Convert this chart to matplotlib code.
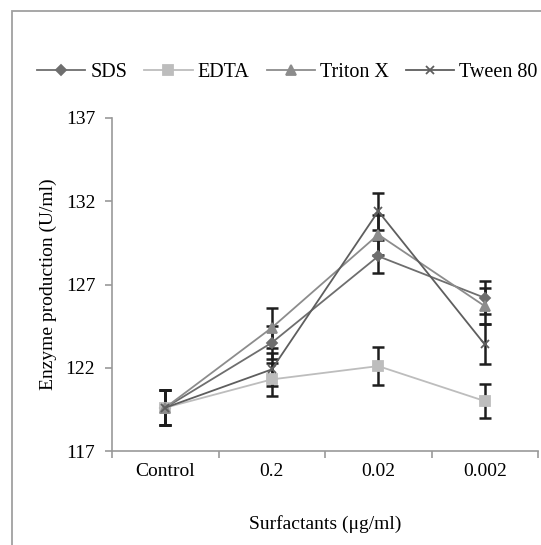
import numpy as np
import matplotlib.pyplot as plt
from matplotlib.patches import Rectangle

plt.rcParams['font.family'] = ['Liberation Serif', 'DejaVu Serif']

# 酶产量数据（U/ml），各表面活性剂在不同浓度下
categories = ['Control', '0.2', '0.02', '0.002']
sds = [119.6, 123.5, 128.7, 126.2]
sds_err = [1.05, 1.0, 1.0, 1.0]
edta = [119.6, 121.3, 122.1, 120.0]
edta_err = [1.05, 1.0, 1.15, 1.0]
triton = [119.6, 124.4, 130.0, 125.7]
triton_err = [1.05, 1.2, 1.2, 1.1]
tween = [119.6, 121.9, 131.4, 123.4]
tween_err = [1.05, 1.0, 1.1, 1.2]

series = [
    ('SDS', sds, sds_err, '#6e6e6e', 'D', 5),
    ('EDTA', edta, edta_err, '#bdbdbd', 's', 6.5),
    ('Triton X', triton, triton_err, '#8c8c8c', '^', 6.5),
    ('Tween 80', tween, tween_err, '#5e5e5e', 'x', 6),
]

fig = plt.figure(figsize=(5.41, 5.45), dpi=100)
ax = fig.add_axes([112 / 541, 1 - 451 / 545, 426 / 541, 333 / 545])

x = np.arange(len(categories))
for name, vals, errs, col, mk, ms in series:
    ax.plot(x, vals, color=col, lw=1.3, marker=mk, ms=ms, mfc=col, mec=col,
            mew=1.3, label=name, zorder=3)
    ax.errorbar(x, vals, yerr=errs, fmt='none', ecolor='#1e1e1e', elinewidth=1.8,
                capsize=4, capthick=1.8, zorder=2)

ax.set_xlim(-0.5, 3.5)
ax.set_ylim(117, 137)
ax.set_yticks([117, 122, 127, 132, 137])
ax.set_xticks(x)
ax.set_xticklabels(categories)
ax.set_xticks(np.arange(-0.5, 4.0, 1.0), minor=True)
ax.tick_params(axis='x', which='major', length=0, pad=9, labelsize=14)
ax.tick_params(axis='x', which='minor', length=5, color='#999999', width=1.2)
ax.tick_params(axis='y', length=5, color='#999999', width=1.2, pad=7, labelsize=14)

for s in ['top', 'right']:
    ax.spines[s].set_visible(False)
for s in ['left', 'bottom']:
    ax.spines[s].set_color('#999999')
    ax.spines[s].set_linewidth(1.2)

ax.set_ylabel('Enzyme production (U/ml)', fontsize=14, labelpad=6)
ax.set_xlabel('Surfactants (μg/ml)', fontsize=14, labelpad=25)

fig.legend(loc='center', bbox_to_anchor=(0.531, 1 - 72 / 545), ncol=4, frameon=False,
           fontsize=14.5, handlelength=2.4, columnspacing=0.85, handletextpad=0.25)

# 外框（右侧与底部超出画布）
fig.patches.append(Rectangle((12 / 541, -0.1), 1.2, 1.1 - 11 / 545,
                             transform=fig.transFigure, fill=False,
                             edgecolor='#a0a0a0', lw=1.3))

fig.savefig('out.png', dpi=100)
